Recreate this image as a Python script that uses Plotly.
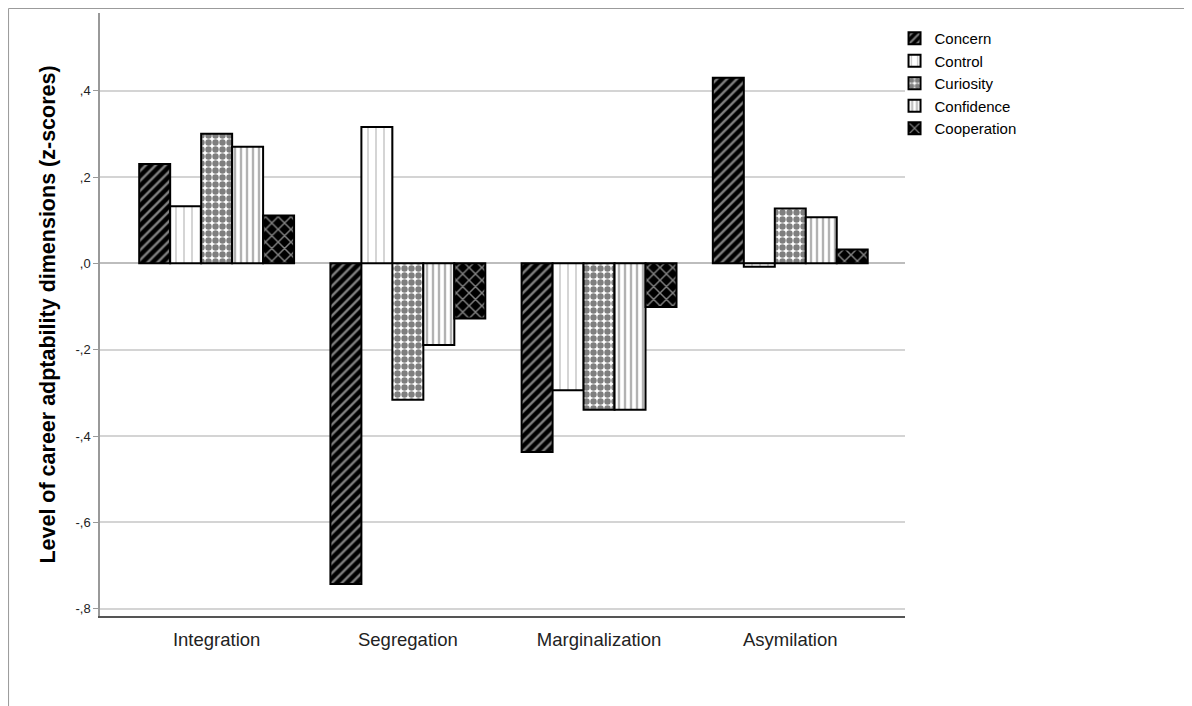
import plotly.graph_objects as go

categories = ["Integration", "Segregation", "Marginalization", "Asymilation"]
series_names = ["Concern", "Control", "Curiosity", "Confidence", "Cooperation"]
concern = [0.230, -0.743, -0.437, 0.430]
control = [0.132, 0.316, -0.294, -0.008]
curiosity = [0.300, -0.316, -0.339, 0.127]
confidence = [0.270, -0.189, -0.339, 0.107]
cooperation = [0.111, -0.128, -0.101, 0.032]
y_tickvals = [0.4, 0.2, 0.0, -0.2, -0.4, -0.6, -0.8]
y_ticktext = [",4", ",2", ",0", "-,2", "-,4", "-,6", "-,8"]

values = [concern, control, curiosity, confidence, cooperation]
patterns = [
    dict(shape="/", fgcolor="white", bgcolor="black", size=7, solidity=0.35, fillmode="overlay"),
    dict(shape="|", fgcolor="#8a8a8a", bgcolor="white", size=8, solidity=0.18, fillmode="overlay"),
    dict(shape=".", fgcolor="black", bgcolor="white", size=7, solidity=0.65, fillmode="overlay"),
    dict(shape="|", fgcolor="#666666", bgcolor="white", size=6, solidity=0.4, fillmode="overlay"),
    dict(shape="x", fgcolor="white", bgcolor="black", size=9, solidity=0.3, fillmode="overlay"),
]

FONT = "Liberation Sans, Arial, sans-serif"
fig = go.Figure()
for name, vals, pat in zip(series_names, values, patterns):
    fig.add_trace(go.Bar(
        x=categories, y=vals, name=name,
        marker=dict(color="white", pattern=pat, line=dict(color="black", width=2)),
    ))

fig.update_layout(
    width=1192, height=706,
    margin=dict(l=92, r=295, t=5, b=98),
    paper_bgcolor="white", plot_bgcolor="white",
    barmode="group", bargap=0.19, bargroupgap=0,
    font=dict(family=FONT, color="#222"),
    legend=dict(x=0.987, xanchor="left", y=0.985, yanchor="top",
                font=dict(size=15, color="black", family=FONT),
                bgcolor="rgba(0,0,0,0)", tracegroupgap=0, itemwidth=30),
    xaxis=dict(type="category", range=[-0.61, 3.60], showgrid=False,
               showline=True, linecolor="#555", linewidth=1.5,
               ticks="", tickfont=dict(size=18.5, color="#222"), ticklabelstandoff=6),
    yaxis=dict(range=[-0.817, 0.58], tickvals=y_tickvals, ticktext=y_ticktext,
               showgrid=True, gridcolor="#d4d4d4", gridwidth=1.5,
               zeroline=True, zerolinecolor="#bdbdbd", zerolinewidth=1.5,
               showline=True, linecolor="#999", linewidth=1.5,
               ticks="outside", ticklen=5, tickcolor="#999",
               tickfont=dict(size=13, color="#222"),
               title=dict(text="Level of career adptability dimensions (z-scores)",
                          font=dict(size=21.5, color="black", family=FONT), standoff=14)),
    shapes=[
        dict(type="line", xref="paper", yref="paper", x0=-0.1136, x1=-0.1136, y0=1.0075, y1=-0.2,
             line=dict(color="#999", width=1)),
        dict(type="line", xref="paper", yref="paper", x0=-0.1136, x1=1.5, y0=1.0075, y1=1.0075,
             line=dict(color="#999", width=1)),
    ],
)
fig.update_yaxes(title_font_weight="bold")

fig.write_html("out.html")
